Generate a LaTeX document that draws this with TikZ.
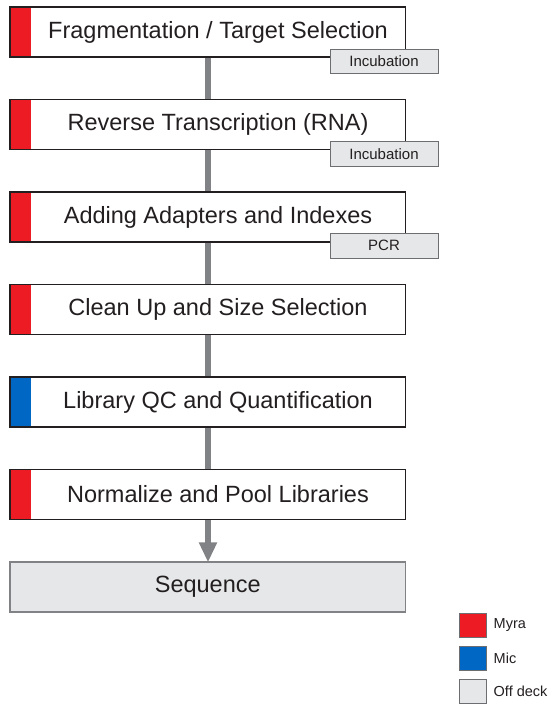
\documentclass[tikz,border=0pt]{standalone}
\usepackage{fontspec}
\setmainfont{Liberation Sans}
\usetikzlibrary{arrows.meta}

\definecolor{inkdark}{HTML}{231F20}
\definecolor{myrared}{HTML}{ED1C24}
\definecolor{micblue}{HTML}{0067C5}
\definecolor{offdeck}{HTML}{E6E7E8}
\definecolor{flowgray}{HTML}{808285}
\definecolor{tagedge}{HTML}{6D6E71}

\tikzset{
  stepbox/.style={draw=inkdark, line width=1.3pt, fill=white,
    minimum width=395.5pt, minimum height=50pt, inner sep=0pt,
    text=inkdark, font=\fontsize{23.5}{26}\selectfont},
  stripped/.style={path picture={
    \fill[#1] (path picture bounding box.north west)
      rectangle ([xshift=21pt]path picture bounding box.south west);}},
  steplabel/.style={text=inkdark, font=\fontsize{23.5}{26}\selectfont, inner sep=0pt},
  tagbox/.style={draw=tagedge, line width=1pt, fill=offdeck,
    minimum width=108pt, minimum height=24.5pt, inner sep=0pt,
    text=inkdark, font=\fontsize{15}{17}\selectfont},
  seqbox/.style={draw=flowgray, line width=1.2pt, fill=offdeck,
    minimum width=395.5pt, minimum height=50pt, inner sep=0pt,
    text=inkdark, font=\fontsize{23.5}{26}\selectfont},
  flow/.style={draw=flowgray, line width=5.5pt},
  legendsq/.style={draw=tagedge, line width=1pt,
    minimum width=27pt, minimum height=24.5pt, inner sep=0pt},
  legendtxt/.style={anchor=west, text=inkdark, inner sep=0pt,
    font=\fontsize{14.5}{16}\selectfont},
}

\begin{document}
\begin{tikzpicture}[x=1pt, y=-1pt]
  \useasboundingbox (0,0) rectangle (550,704);

  % process steps, boxes 92.5pt apart
  \node[stepbox, stripped=myrared] (s1) at (207.75,32)    {};
  \node[stepbox, stripped=myrared] (s2) at (207.75,124.5) {};
  \node[stepbox, stripped=myrared] (s3) at (207.75,217)   {};
  \node[stepbox, stripped=myrared] (s4) at (207.75,309.5) {};
  \node[stepbox, stripped=micblue] (s5) at (207.75,402)   {};
  \node[stepbox, stripped=myrared] (s6) at (207.75,494.5) {};
  \node[seqbox] (seq) at (207.75,587) {Sequence};

  % step names, centred on the white part of each box
  \node[steplabel] (t1) at (218,32)    {Fragmentation / Target Selection};
  \node[steplabel] (t2) at (218,124.5) {Reverse Transcription (RNA)};
  \node[steplabel] (t3) at (218,217)   {Adding Adapters and Indexes};
  \node[steplabel] (t4) at (218,309.5) {Clean Up and Size Selection};
  \node[steplabel] (t5) at (218,402)   {Library QC and Quantification};
  \node[steplabel] (t6) at (218,494.5) {Normalize and Pool Libraries};

  % off-deck tags hanging from the lower right corners
  \node[tagbox] (g1) at (384,61.25)  {Incubation};
  \node[tagbox] (g2) at (384,154)    {Incubation};
  \node[tagbox] (g3) at (384,245.75) {PCR};

  % connectors between steps
  \coordinate (c1) at ([xshift=0.25pt]s1.south);
  \coordinate (c2t) at ([xshift=0.25pt]s2.north);
  \coordinate (c2) at ([xshift=0.25pt]s2.south);
  \coordinate (c3t) at ([xshift=0.25pt]s3.north);
  \coordinate (c3) at ([xshift=0.25pt]s3.south);
  \coordinate (c4t) at ([xshift=0.25pt]s4.north);
  \coordinate (c4) at ([xshift=0.25pt]s4.south);
  \coordinate (c5t) at ([xshift=0.25pt]s5.north);
  \coordinate (c5) at ([xshift=0.25pt]s5.south);
  \coordinate (c6t) at ([xshift=0.25pt]s6.north);
  \coordinate (c6) at ([xshift=0.25pt]s6.south);
  \coordinate (cq) at ([xshift=0.25pt, yshift=-1pt]seq.north);
  \path[flow] (c1) -- (c2t);
  \path[flow] (c2) -- (c3t);
  \path[flow] (c3) -- (c4t);
  \path[flow] (c4) -- (c5t);
  \path[flow] (c5) -- (c6t);
  \path[flow, -{Triangle[length=20pt, width=17pt]}] (c6) -- (cq);

  % legend
  \node[legendsq, fill=myrared] (l1) at (472.5,625.5) {};
  \node[legendsq, fill=micblue] (l2) at (472.5,658.5) {};
  \node[legendsq, fill=offdeck] (l3) at (472.5,691.5) {};
  \node[legendtxt] (k1) at (493.5,625.5) {Myra};
  \node[legendtxt] (k2) at (493.5,658.5) {Mic};
  \node[legendtxt] (k3) at (493.5,691.5) {Off deck};
\end{tikzpicture}
\end{document}
